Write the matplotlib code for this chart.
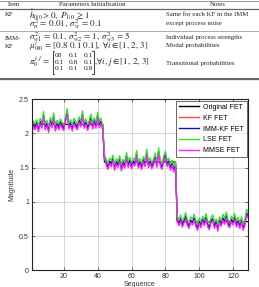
import numpy as np
import matplotlib
matplotlib.use("Agg")
import matplotlib.pyplot as plt
from matplotlib.lines import Line2D

plt.rcParams['mathtext.fontset'] = 'stix'

# ---------------- data ----------------
levels = [2.13, 1.58, 0.71]
seg_len = [43, 43, 43]

kf = [2.02, 2.14, 2.10, 2.16, 2.07, 2.18, 2.12, 2.27, 2.10, 2.15, 2.06, 2.19, 2.13, 2.25, 2.08, 2.15, 2.10, 2.17, 2.12, 2.09,
      2.21, 2.31, 2.11, 2.16, 2.08, 2.18, 2.13, 2.10, 2.20, 2.14, 2.28, 2.12, 2.17, 2.09, 2.15, 2.23, 2.11, 2.19, 2.12, 2.26,
      2.13, 2.18, 2.07,
      1.66, 1.58, 1.52, 1.60, 1.56, 1.64, 1.51, 1.59, 1.55, 1.63, 1.50, 1.58, 1.54, 1.67, 1.55, 1.61, 1.53, 1.60, 1.57, 1.70,
      1.54, 1.59, 1.52, 1.62, 1.56, 1.72, 1.55, 1.60, 1.53, 1.58, 1.66, 1.55, 1.74, 1.57, 1.52, 1.62, 1.69, 1.56, 1.60, 1.51,
      1.57, 1.48, 1.55,
      0.75, 0.70, 0.76, 0.68, 0.73, 0.79, 0.70, 0.66, 0.74, 0.71, 0.77, 0.69, 0.63, 0.72, 0.67, 0.75, 0.70, 0.78, 0.68, 0.64,
      0.73, 0.76, 0.66, 0.71, 0.62, 0.74, 0.69, 0.77, 0.72, 0.80, 0.70, 0.67, 0.75, 0.71, 0.78, 0.68, 0.73, 0.66, 0.74, 0.63,
      0.70, 0.84, 0.80]

imm = [2.01, 2.13, 2.08, 2.15, 2.05, 2.17, 2.10, 2.26, 2.08, 2.14, 2.04, 2.18, 2.11, 2.24, 2.06, 2.14, 2.08, 2.16, 2.10, 2.07,
       2.20, 2.30, 2.09, 2.15, 2.06, 2.17, 2.11, 2.08, 2.19, 2.12, 2.27, 2.10, 2.16, 2.07, 2.13, 2.22, 2.09, 2.18, 2.10, 2.25,
       2.11, 2.17, 2.06,
       1.65, 1.57, 1.50, 1.59, 1.54, 1.63, 1.49, 1.58, 1.53, 1.62, 1.48, 1.57, 1.52, 1.66, 1.53, 1.60, 1.51, 1.59, 1.55, 1.69,
       1.52, 1.58, 1.50, 1.61, 1.54, 1.71, 1.53, 1.59, 1.51, 1.57, 1.65, 1.53, 1.73, 1.55, 1.50, 1.61, 1.68, 1.54, 1.59, 1.49,
       1.56, 1.46, 1.54,
       0.74, 0.68, 0.75, 0.66, 0.72, 0.78, 0.68, 0.64, 0.73, 0.69, 0.76, 0.67, 0.61, 0.71, 0.65, 0.74, 0.68, 0.77, 0.66, 0.62,
       0.72, 0.75, 0.64, 0.70, 0.60, 0.73, 0.67, 0.76, 0.70, 0.79, 0.68, 0.65, 0.74, 0.69, 0.77, 0.66, 0.72, 0.64, 0.73, 0.61,
       0.69, 0.83, 0.79]

lse = [2.05, 2.18, 2.14, 2.20, 2.11, 2.22, 2.16, 2.32, 2.14, 2.19, 2.10, 2.23, 2.17, 2.30, 2.12, 2.19, 2.14, 2.21, 2.16, 2.13,
       2.25, 2.36, 2.15, 2.20, 2.12, 2.22, 2.17, 2.14, 2.24, 2.18, 2.33, 2.16, 2.21, 2.13, 2.19, 2.28, 2.15, 2.23, 2.16, 2.31,
       2.17, 2.22, 2.10,
       1.69, 1.62, 1.56, 1.64, 1.60, 1.68, 1.55, 1.63, 1.59, 1.67, 1.54, 1.62, 1.58, 1.72, 1.59, 1.65, 1.57, 1.64, 1.61, 1.75,
       1.58, 1.63, 1.56, 1.66, 1.60, 1.77, 1.59, 1.64, 1.57, 1.62, 1.71, 1.59, 1.79, 1.61, 1.56, 1.66, 1.74, 1.60, 1.64, 1.55,
       1.61, 1.52, 1.59,
       0.79, 0.74, 0.81, 0.72, 0.77, 0.84, 0.74, 0.70, 0.78, 0.75, 0.82, 0.73, 0.67, 0.76, 0.71, 0.79, 0.74, 0.83, 0.72, 0.68,
       0.77, 0.81, 0.70, 0.75, 0.66, 0.78, 0.73, 0.82, 0.76, 0.85, 0.74, 0.71, 0.79, 0.75, 0.83, 0.72, 0.77, 0.70, 0.78, 0.67,
       0.74, 0.89, 0.85]

mmse = [1.98, 2.10, 2.05, 2.12, 2.02, 2.14, 2.07, 2.23, 2.05, 2.11, 2.01, 2.15, 2.08, 2.21, 2.03, 2.11, 2.05, 2.13, 2.07, 2.04,
        2.17, 2.27, 2.06, 2.12, 2.03, 2.14, 2.08, 2.05, 2.16, 2.09, 2.24, 2.07, 2.13, 2.04, 2.10, 2.19, 2.06, 2.15, 2.07, 2.22,
        2.08, 2.14, 2.03,
        1.63, 1.54, 1.47, 1.56, 1.51, 1.60, 1.46, 1.55, 1.50, 1.59, 1.45, 1.54, 1.49, 1.63, 1.50, 1.57, 1.48, 1.56, 1.52, 1.66,
        1.49, 1.55, 1.47, 1.58, 1.51, 1.68, 1.50, 1.56, 1.48, 1.54, 1.62, 1.50, 1.70, 1.52, 1.47, 1.58, 1.65, 1.51, 1.56, 1.46,
        1.53, 1.43, 1.51,
        0.71, 0.65, 0.72, 0.63, 0.69, 0.75, 0.65, 0.61, 0.70, 0.66, 0.73, 0.64, 0.58, 0.68, 0.62, 0.71, 0.65, 0.74, 0.63, 0.59,
        0.69, 0.72, 0.61, 0.67, 0.57, 0.70, 0.64, 0.73, 0.67, 0.76, 0.65, 0.62, 0.71, 0.66, 0.74, 0.63, 0.69, 0.61, 0.70, 0.58,
        0.66, 0.80, 0.76]

series_names = ["Original FET", "KF FET", "IMM-KF FET", "LSE FET", "MMSE FET"]
x_ticks = [20, 40, 60, 80, 100, 120]
y_ticks = [0, 0.5, 1, 1.5, 2, 2.5]
y_ticklabels = ["0", "0.5", "1", "1.5", "2", "2.5"]

table_header = ["Item", "Parameters Initialisation", "Notes"]
kf_params = [r"$\hat{h}_{0|0} > 0,\; P_{1|0}\, \geq\, 1$", r"$\sigma_n^2\, =\, 0.01,\; \sigma_w^2\, =\, 0.1$"]
kf_notes = ["Same for each KF in the IMM", "except process noise"]
imm_params = [r"$\sigma_{w1}^2\, =\, 0.1,\; \sigma_{w2}^2\, =\, 1,\; \sigma_{w3}^2\, =\, 5$",
              r"$\mu_{0|0}^i\, =\, [0.8\ 0.1\ 0.1],\;\forall i \in [1,\, 2,\, 3]$"]
imm_notes = ["Individual process strengths", "Modal probabilities", "Transitional probabilities"]
matrix_cols = [["08", "0.1", "0.1"], ["0.1", "0.8", "0.1"], ["0.1", "0.1", "0.8"]]

# ---------------- figure ----------------
W, H = 259, 287
fig = plt.figure(figsize=(W / 100, H / 100), dpi=100)

def fy(y):
    return 1 - y / H

def fx(x):
    return x / W

serif = ["Liberation Serif", "DejaVu Serif"]
sans = ["Liberation Sans", "DejaVu Sans"]
tfs = 4.9
mfs = 6.5

# table lines
def hline(y, lw, color="#555555"):
    fig.add_artist(Line2D([0, 1], [fy(y), fy(y)], transform=fig.transFigure, lw=lw, color=color))

hline(0.6, 0.6, "#888888")
hline(9.3, 0.9, "#666666")
hline(31.3, 0.5, "#888888")
hline(77.6, 0.7, "#666666")
hline(79.3, 0.9, "#666666")

def t(x, y, s, ha="left", fs=tfs, ls=1.2):
    return fig.text(fx(x), fy(y), s, ha=ha, va="center", fontsize=fs, family=serif,
                    color="#222222", linespacing=ls)

t(14, 5, table_header[0], ha="center")
t(92, 5, table_header[1], ha="center")
t(218, 5, table_header[2], ha="center")

t(5, 15, "KF")
t(29, 19.5, "\n".join(kf_params), fs=mfs, ls=0.48)
t(166, 15, kf_notes[0])
t(166, 24, kf_notes[1])

t(5, 38, "IMM-")
t(5, 46, "KF")
t(29, 42.0, "\n".join(imm_params), fs=mfs, ls=0.48)
t(29, 62, r"$\pi_0^{i,j}\, =$", fs=mfs)
col_x = [55, 69, 84]
for c, col in enumerate(matrix_cols):
    t(col_x[c], 62, "\n".join(col), ha="left", fs=5.4, ls=1.45)
# brackets
bx0, bx1, by0, by1 = 52.5, 93.5, 50.5, 74.0
for xs in ([bx0 + 1.5, bx0, bx0, bx0 + 1.5], [bx1 - 1.5, bx1, bx1, bx1 - 1.5]):
    fig.add_artist(Line2D([fx(v) for v in xs], [fy(by0), fy(by0), fy(by1), fy(by1)],
                          transform=fig.transFigure, lw=0.6, color="#222222"))
t(94, 62, r"$,\!\forall i,\, j \in [1,\, 2,\, 3]$", fs=mfs)
t(166, 38, imm_notes[0])
t(166, 46, imm_notes[1])
t(166, 63, imm_notes[2])

# ---------------- chart ----------------
ax = fig.add_axes([fx(31.7), fy(270.3), fx(248.3) - fx(31.7), fy(99) - fy(270.3)])
n = sum(seg_len)
x = np.arange(1, n + 1)
orig = np.repeat(levels, seg_len)

lw = 0.9
ax.plot(x, orig, color="black", lw=lw, label=series_names[0])
ax.plot(x, kf, color="#ff4040", lw=lw, label=series_names[1])
ax.plot(x, imm, color="#1010c0", lw=lw, label=series_names[2])
ax.plot(x, lse, color="#30e030", lw=lw, label=series_names[3])
ax.plot(x, mmse, color="#ff20ff", lw=lw, label=series_names[4])

ax.set_xlim(1, 129)
ax.set_ylim(0, 2.5)
ax.set_xticks(x_ticks)
ax.set_yticks(y_ticks)
ax.set_yticklabels(y_ticklabels)
ax.grid(True, color="#d0d0d0", lw=0.6)
ax.set_axisbelow(True)
ax.tick_params(direction="in", length=2, width=0.5, labelsize=5, pad=2, colors="#333333",
               top=True, right=True)
for lab in ax.get_xticklabels() + ax.get_yticklabels():
    lab.set_family(sans)
for sp in ax.spines.values():
    sp.set_linewidth(0.8)
    sp.set_color("#222222")
ax.set_xlabel("Sequence", fontsize=5, labelpad=1, color="#333333", family=sans)
ax.set_ylabel("Magnitude", fontsize=5, labelpad=3, color="#333333", family=sans)

leg = ax.legend(loc="upper right", prop={"family": sans, "size": 5.0}, frameon=True, fancybox=False,
                borderaxespad=0.25, handlelength=2.9, handletextpad=0.5,
                labelspacing=0.55, borderpad=0.45)
leg.get_frame().set_edgecolor("#222222")
leg.get_frame().set_linewidth(0.6)
for line in leg.get_lines():
    line.set_linewidth(1.0)

fig.savefig("out.png", dpi=100)
